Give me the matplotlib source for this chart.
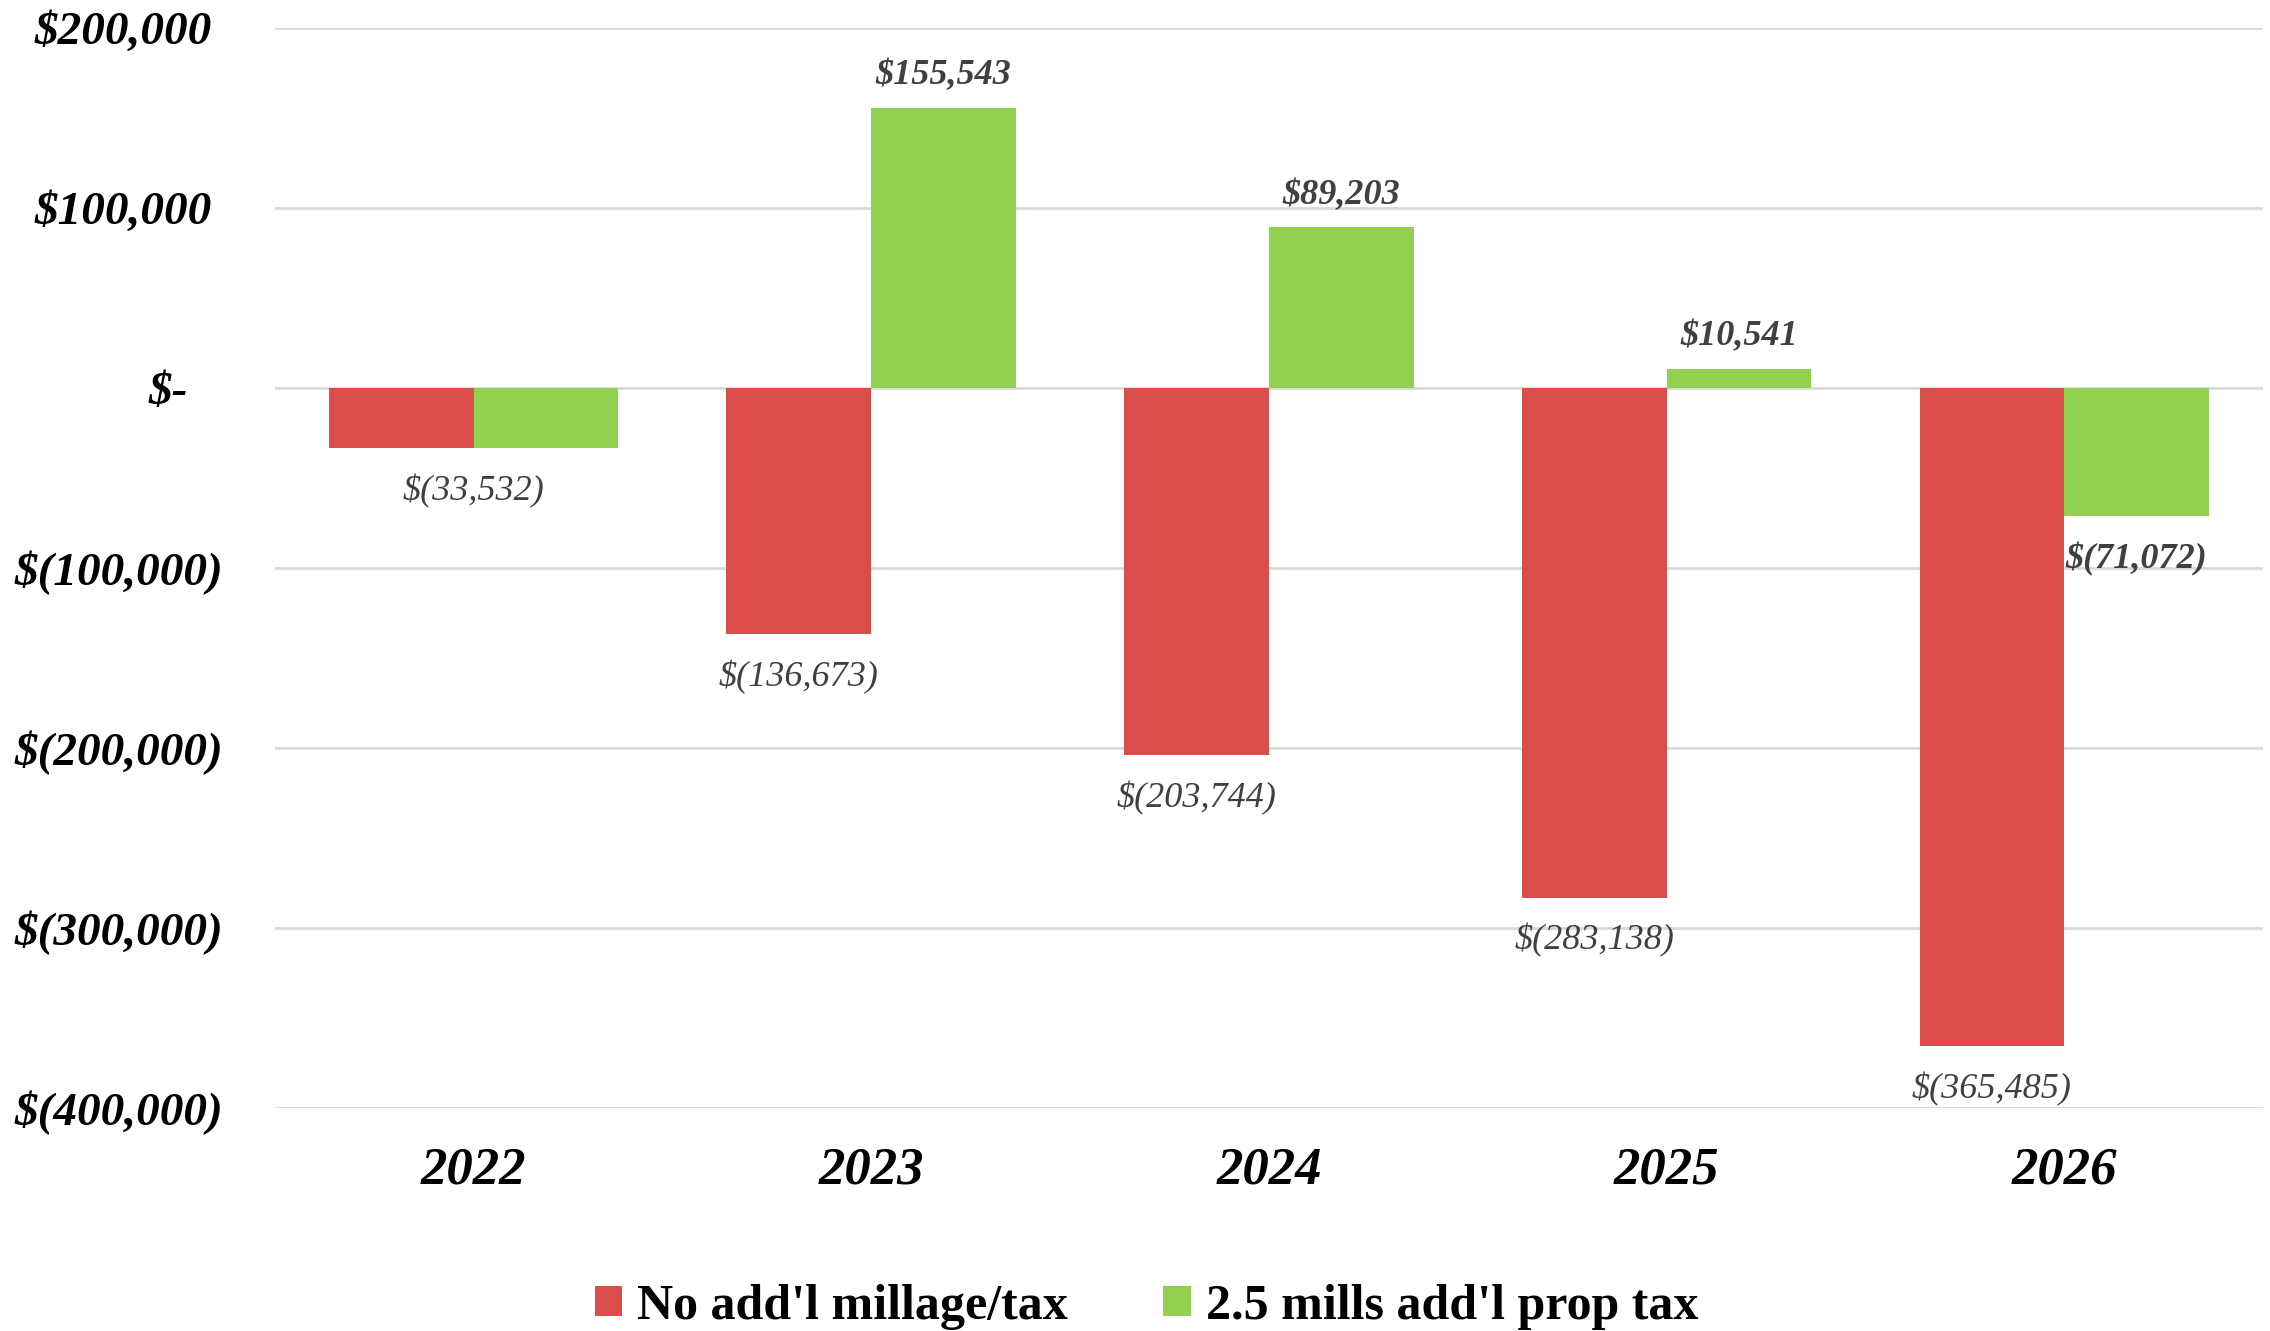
import numpy as np
import matplotlib.pyplot as plt
from matplotlib.ticker import FuncFormatter

years = ["2022", "2023", "2024", "2025", "2026"]
no_millage = [-33532, -136673, -203744, -283138, -365485]
mills_25 = [-33532, 155543, 89203, 10541, -71072]
series_names = ["No add'l millage/tax", "2.5 mills add'l prop tax"]
# 2022: both bars are equal, only one label shown in the middle of the pair
green_label_shown = [False, True, True, True, True]

red = "#DA4D4A"
green = "#92D050"
serif = ["Liberation Serif", "DejaVu Serif"]

def money(v):
    if v == 0:
        return "$-"
    if v < 0:
        return "$({:,.0f})".format(-v)
    return "${:,.0f}".format(v)

def tick_money(v, pos=None):
    # accounting style: room for the ")" on positives, more on the dash
    if v == 0:
        return "$-   "
    if v < 0:
        return money(v)
    return money(v) + " "

fig = plt.figure(figsize=(22.7, 13.31), dpi=100)
ax = fig.add_axes([0.121, 0.1675, 0.876, 0.8115])

x = np.arange(len(years))
w = 0.364
b1 = ax.bar(x - w/2, no_millage, w, color=red, label=series_names[0], zorder=3)
b2 = ax.bar(x + w/2, mills_25, w, color=green, label=series_names[1], zorder=3)

def put_label(xc, v, wt):
    off = 32 if v > 0 else -43
    ax.annotate(money(v), (xc, v), xytext=(0, off), textcoords="offset pixels",
                ha="center", va="center", fontsize=26, style="italic",
                weight=wt, color="#404040", family=serif, zorder=4)

for i, r in enumerate(b1):
    xc = r.get_x() + r.get_width()/2
    if not green_label_shown[i]:
        xc = x[i]
    put_label(xc, no_millage[i], "normal")
for i, r in enumerate(b2):
    if green_label_shown[i]:
        put_label(r.get_x() + r.get_width()/2, mills_25[i], "bold")

ax.set_xlim(-0.5, len(years) - 0.5)
ax.set_ylim(-400000, 200000)
ax.set_yticks(np.arange(-400000, 200001, 100000))
ax.yaxis.set_major_formatter(FuncFormatter(tick_money))
ax.set_xticks(x)
ax.set_xticklabels(years)
ax.grid(axis="y", color="#D9D9D9", linewidth=2, zorder=0)
for s in ax.spines.values():
    s.set_visible(False)
ax.tick_params(axis="both", length=0)
ax.tick_params(axis="y", pad=37)
ax.tick_params(axis="x", pad=28)
for t in ax.get_yticklabels():
    t.set_fontfamily(serif)
    t.set_fontsize(34)
    t.set_fontstyle("italic")
    t.set_fontweight("bold")
for t in ax.get_xticklabels():
    t.set_fontfamily(serif)
    t.set_fontsize(38)
    t.set_fontstyle("italic")
    t.set_fontweight("bold")

fig.legend(handles=[b1, b2], loc="center", bbox_to_anchor=(0.505, 0.018), ncol=2,
           frameon=False, prop={"family": serif, "size": 36, "weight": "bold"},
           handlelength=0.55, handleheight=0.55, handletextpad=0.3, columnspacing=1.9)

plt.savefig("out.png", dpi=100)
